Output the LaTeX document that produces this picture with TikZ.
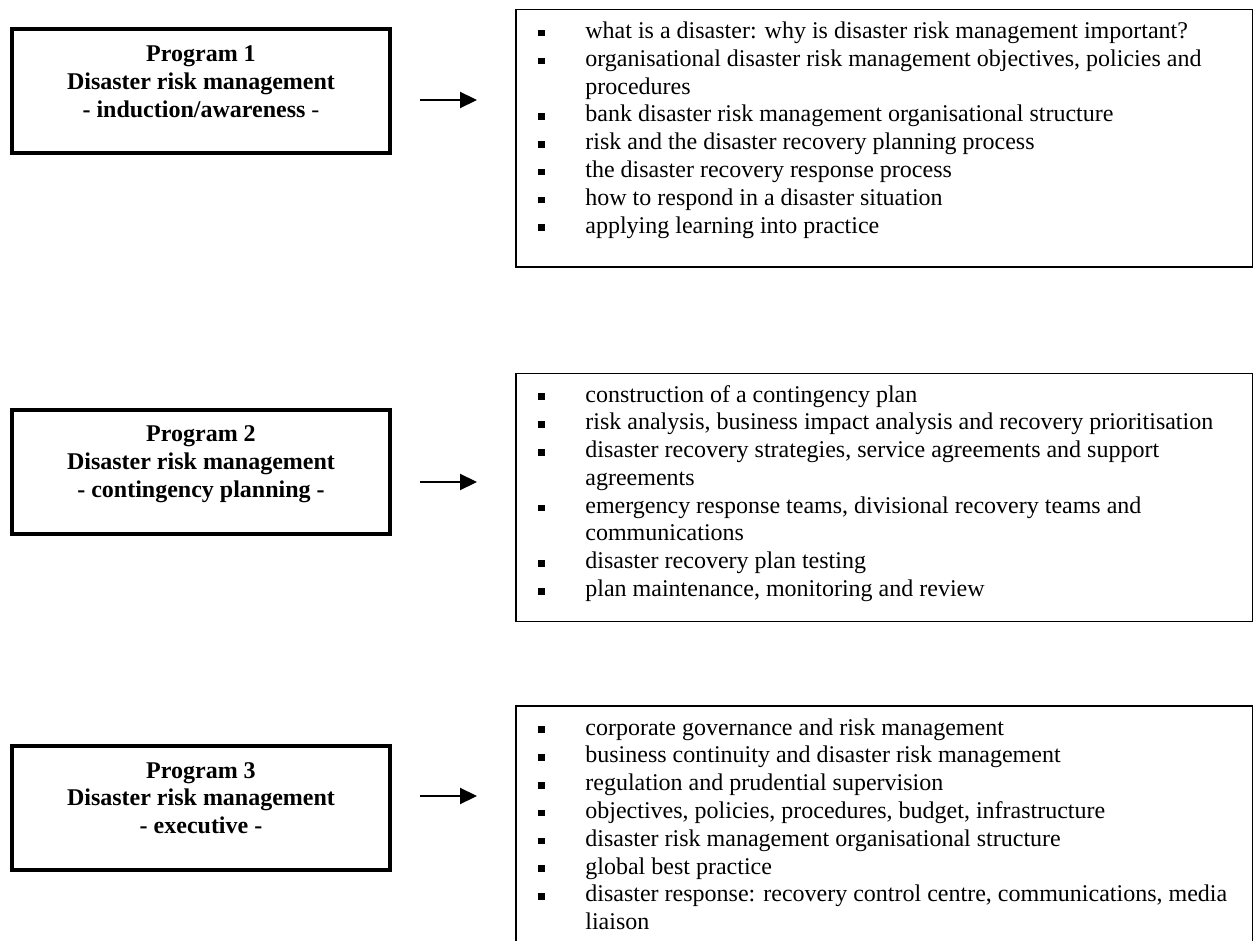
\documentclass[tikz,border=0pt]{standalone}
\usepackage{fontspec}
\setmainfont{Liberation Serif}
\usetikzlibrary{arrows.meta}
\newcommand{\bul}{\makebox[23.5pt][l]{\raisebox{1pt}{\rule{3.3pt}{3.3pt}}}}
\begin{document}
\begin{tikzpicture}[x=0.5pt,y=-0.5pt,
  prog/.style={draw, line width=2pt, minimum width=189pt, minimum height=62pt, inner sep=0pt, outer sep=0pt},
  progtext/.style={anchor=base, inner sep=0pt, font=\fontsize{12}{13.8}\selectfont\bfseries},
  listbox/.style={draw, line width=0.75pt, anchor=north west, minimum width=368.25pt, inner sep=0pt, outer sep=0pt},
  listtext/.style={anchor=base west, inner sep=0pt, font=\fontsize{12}{13.9}\selectfont},
  arr/.style={line width=1.1pt, -{Triangle[length=8.5pt,width=8pt]}}]
\useasboundingbox (0,0) rectangle (1254,941);
\fill[white] (0,0) rectangle (1254,941);
\clip (0,0) rectangle (1254,941);

% Program boxes
\node[prog] (p1) at (201,91) {};
\node[prog] (p2) at (201,472) {};
\node[prog] (p3) at (201,808) {};

\node[progtext] (t1) at (201,62) {\begin{tabular}[t]{@{}c@{}}Program 1\\Disaster risk management\\- induction/awareness {\mdseries -}\end{tabular}};
\node[progtext] (t2) at (201,442) {\begin{tabular}[t]{@{}c@{}}Program 2\\Disaster risk management\\- contingency planning -\end{tabular}};
\node[progtext] (t3) at (201,778) {\begin{tabular}[t]{@{}c@{}}Program 3\\Disaster risk management\\- executive -\end{tabular}};

% List boxes
\node[listbox, minimum height=128.75pt] (r1) at (515.75,9.75) {};
\node[listbox, minimum height=123.75pt] (r2) at (515.75,373.75) {};
\node[listbox, minimum height=130pt] (r3) at (515.75,705.75) {};

\node[listtext] (l1) at (538,38.5) {\begin{tabular}[t]{@{}l@{}l@{}}
\bul & what is a disaster: why is disaster risk management important?\\
\bul & organisational disaster risk management objectives, policies and\\
 & procedures\\
\bul & bank disaster risk management organisational structure\\
\bul & risk and the disaster recovery planning process\\
\bul & the disaster recovery response process\\
\bul & how to respond in a disaster situation\\
\bul & applying learning into practice
\end{tabular}};

\node[listtext] (l2) at (538,402) {\begin{tabular}[t]{@{}l@{}l@{}}
\bul & construction of a contingency plan\\
\bul & risk analysis, business impact analysis and recovery prioritisation\\
\bul & disaster recovery strategies, service agreements and support\\
 & agreements\\
\bul & emergency response teams, divisional recovery teams and\\
 & communications\\
\bul & disaster recovery plan testing\\
\bul & plan maintenance, monitoring and review
\end{tabular}};

\node[listtext] (l3) at (538,735) {\begin{tabular}[t]{@{}l@{}l@{}}
\bul & corporate governance and risk management\\
\bul & business continuity and disaster risk management\\
\bul & regulation and prudential supervision\\
\bul & objectives, policies, procedures, budget, infrastructure\\
\bul & disaster risk management organisational structure\\
\bul & global best practice\\
\bul & disaster response: recovery control centre, communications, media\\
 & liaison
\end{tabular}};

% Arrows
\coordinate (a1s) at (420,100); \coordinate (a1e) at (477,100);
\coordinate (a2s) at (420,482); \coordinate (a2e) at (477,482);
\coordinate (a3s) at (420,796); \coordinate (a3e) at (477,796);
\draw[arr] (a1s) -- (a1e);
\draw[arr] (a2s) -- (a2e);
\draw[arr] (a3s) -- (a3e);
\end{tikzpicture}
\end{document}
